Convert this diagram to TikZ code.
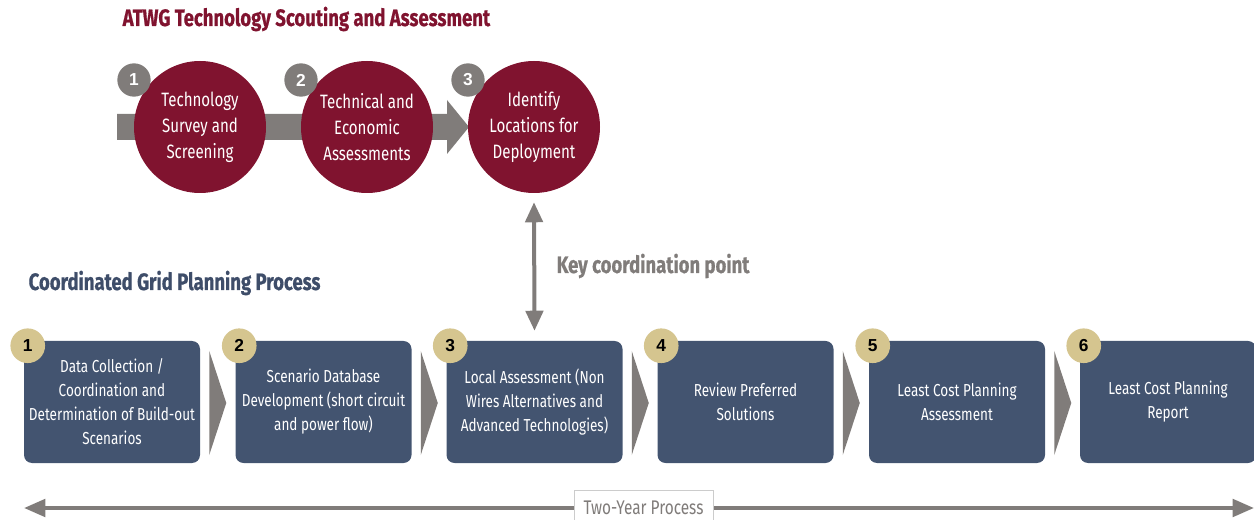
\documentclass[tikz,border=0pt]{standalone}
\usepackage{fontspec}
\setmainfont{Fira Sans}[FakeStretch=0.78]
\newfontfamily\headfont{Fira Sans}[FakeStretch=0.78,BoldFeatures={FakeBold=0.7}]
\newfontfamily\numfont{Liberation Sans}
\usetikzlibrary{arrows.meta,calc}
\definecolor{maroon}{HTML}{80132F}
\definecolor{greyc}{HTML}{807C7A}
\definecolor{slate}{HTML}{435470}
\definecolor{tan}{HTML}{D5C58F}
\definecolor{slatetxt}{HTML}{3E4D69}
\tikzset{
  bigcirc/.style={circle,fill=maroon,minimum size=99pt,inner sep=0pt,text=white,align=center,font=\fontsize{14.5}{19.5}\selectfont},
  greybadge/.style={circle,fill=greyc,minimum size=25pt,inner sep=0pt,text=white,font=\numfont\bfseries\fontsize{13}{13}\selectfont},
  stepbox/.style={rounded corners=6pt,fill=slate,minimum width=132pt,minimum height=91.5pt,inner sep=0pt,text=white,align=center,font=\fontsize{13}{18}\selectfont},
  tanbadge/.style={circle,fill=tan,minimum size=26pt,inner sep=0pt,text=black,font=\numfont\bfseries\fontsize{13}{13}\selectfont},
  chev/.style={fill=greyc},
  heading/.style={anchor=west,font=\headfont\bfseries\fontsize{17.8}{17.8}\selectfont},
}
\begin{document}
\begin{tikzpicture}[x=0.75pt,y=-0.75pt]
\useasboundingbox (0,0) rectangle (1254,520);
% title
\node[heading,text=maroon] (t1) at (118,19) {ATWG Technology Scouting and Assessment};
% band arrow
\coordinate (bandstart) at (117,127);
\fill[greyc] (117,114) -- (447,114) -- (447,100) -- (469,127) -- (447,154) -- (447,140) -- (117,140) -- cycle;
% circles
\node[bigcirc] (c1) at (200,127) {Technology\\Survey and\\Screening};
\node[bigcirc] (c2) at (367,127) {Technical and\\Economic\\Assessments};
\node[bigcirc] (c3) at (534,127) {Identify\\Locations for\\Deployment};
\node[greybadge] (g1) at (134,80) {1};
\node[greybadge] (g2) at (301,80) {2};
\node[greybadge] (g3) at (468,80) {3};
% boxes
\node[heading,text=slatetxt] (t2) at (24,283) {Coordinated Grid Planning Process};
\foreach \i/\cx/\txt in {1/112/{Data Collection /\\Coordination and\\Determination of Build-out\\Scenarios},
  2/323.5/{Scenario Database\\Development (short circuit\\and power flow)},
  3/534.5/{Local Assessment (Non\\Wires Alternatives and\\Advanced Technologies)},
  4/745.5/{Review Preferred\\Solutions},
  5/957/{Least Cost Planning\\Assessment},
  6/1168/{Least Cost Planning\\Report}}{
  \node[stepbox] (b\i) at (\cx,402) {\txt};
  \node[tanbadge] (n\i) at ($(b\i.north west)+(4,5)$) {\i};
}
\foreach \i in {1,...,5}{
  \fill[chev] ($(b\i.east)+(9,-51)$) -- ($(b\i.east)+(26,1)$) -- ($(b\i.east)+(9,53)$) -- cycle;
}
% key coordination
\draw[greyc,line width=3pt,{Triangle[width=13pt,length=15pt]}-{Triangle[width=13pt,length=15pt]}] ($(c3.south)+(0,9)$) -- ($(b3.north)+(0,-10)$);
\node[heading,text=greyc] (kc) at (552,266) {Key coordination point};
% bottom arrow
\coordinate (la) at (24,508);
\coordinate (ra) at (1254,508);
\draw[greyc,line width=3pt,{Triangle[width=13pt,length=16pt]}-{Triangle[width=13pt,length=16pt]}] (la) -- (ra);
\node[draw=black!20,fill=white,text=greyc,minimum width=104pt,minimum height=27pt,font=\fontsize{14.8}{14.8}\selectfont] (ty) at (643.5,508) {Two-Year Process};
\end{tikzpicture}
\end{document}
